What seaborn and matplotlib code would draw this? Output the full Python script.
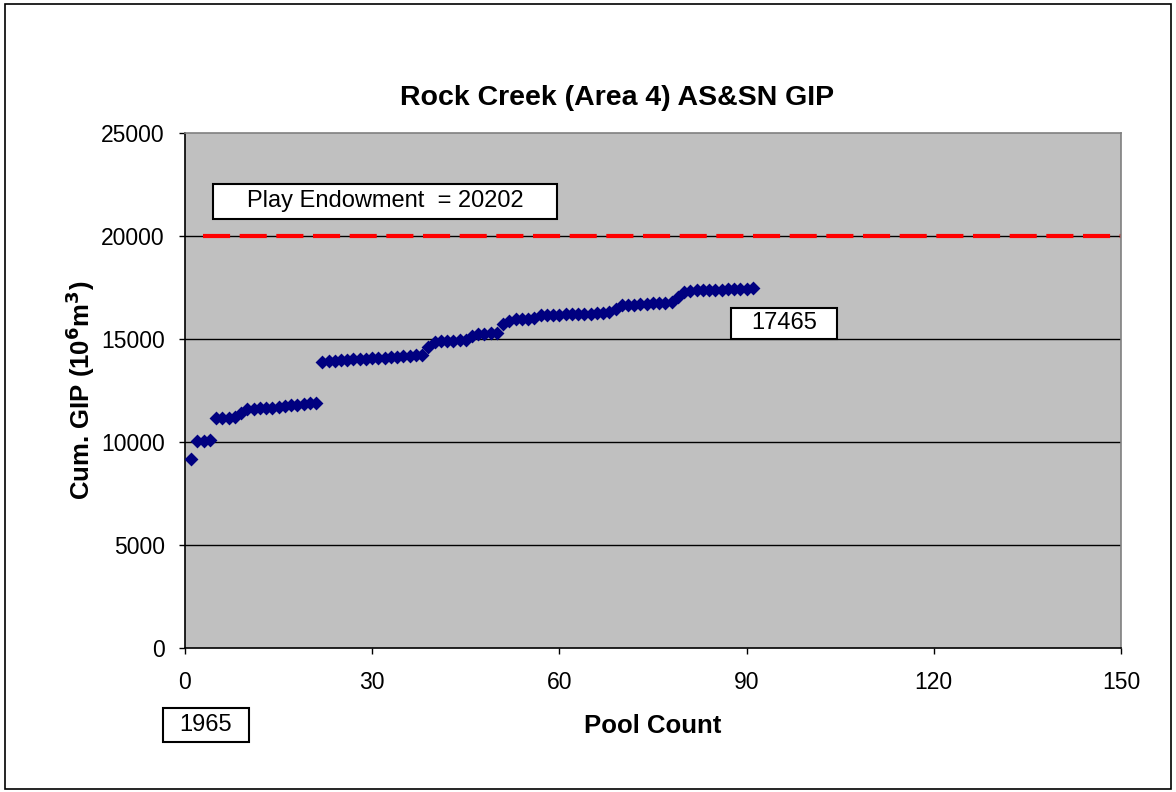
import numpy as np
import pandas as pd
import seaborn as sns
import matplotlib.pyplot as plt
from matplotlib.patches import Rectangle

sns.set_theme(style="white")
plt.rcParams['font.family'] = ['Liberation Sans', 'DejaVu Sans']
plt.rcParams['text.color'] = 'black'
plt.rcParams['axes.labelcolor'] = 'black'

# data
pool_count = list(range(1, 92))
cum_gip = [9180, 10060, 10070, 10080, 11150, 11160, 11170, 11190, 11390, 11600,
           11620, 11640, 11650, 11670, 11690, 11740, 11780, 11820, 11850, 11870,
           11890, 13900, 13930, 13950, 13970, 13990, 14010, 14030, 14040, 14060,
           14080, 14100, 14120, 14140, 14160, 14180, 14200, 14220, 14590, 14850,
           14880, 14900, 14910, 14930, 14960, 15150, 15240, 15260, 15270, 15290,
           15730, 15890, 15950, 15970, 15990, 16010, 16150, 16160, 16170, 16180,
           16190, 16200, 16210, 16220, 16230, 16240, 16250, 16290, 16450, 16630,
           16650, 16670, 16690, 16710, 16730, 16750, 16770, 16800, 17040, 17300,
           17340, 17360, 17370, 17380, 17390, 17400, 17420, 17430, 17440, 17450,
           17465]
endowment_line = 20000
endowment_label = "Play Endowment  = 20202"
final_label = "17465"
start_year = "1965"
x_ticks = [0, 30, 60, 90, 120, 150]
y_ticks = [0, 5000, 10000, 15000, 20000, 25000]

df = pd.DataFrame({'pool': pool_count, 'gip': cum_gip})

fig = plt.figure(figsize=(11.76, 7.92), dpi=100)
ax = fig.add_axes([0.1573, 0.1818, 0.7959, 0.6503])
ax.set_facecolor('#c0c0c0')

# gridlines
for yv in y_ticks[1:-1]:
    ax.axhline(yv, color='black', lw=1, zorder=1)

# endowment line
ax.plot([2.9, 150], [endowment_line, endowment_line], color='#ff0000', lw=3,
        dashes=(6.5, 2.3), zorder=2)

sns.scatterplot(data=df, x='pool', y='gip', marker='D', s=50, color='#000080',
                edgecolor='#000080', linewidth=0, ax=ax, zorder=3)

ax.set_xlim(0, 150)
ax.set_ylim(0, 25000)
ax.set_xticks(x_ticks)
ax.set_yticks(y_ticks)
ax.tick_params(axis='both', labelsize=16.5, colors='black', length=4.5, width=1,
               direction='out', left=True, bottom=True)
ax.tick_params(axis='x', pad=12)
ax.tick_params(axis='y', pad=10)

for s in ['left', 'bottom']:
    ax.spines[s].set_color('black')
    ax.spines[s].set_linewidth(1.2)
for s in ['top', 'right']:
    ax.spines[s].set_color('#808080')
    ax.spines[s].set_linewidth(1.2)

ax.set_title("Rock Creek (Area 4) AS&SN GIP", fontsize=20.5, fontweight='bold',
             pad=20, x=0.4615)
ax.set_xlabel("Pool Count", fontsize=18.5, fontweight='bold')
ax.set_ylabel(r"Cum. GIP (10$^\mathbf{6}$m$^\mathbf{3}$)", fontsize=18.5,
              fontweight='bold')
ax.xaxis.set_label_coords(0.5, -0.128)
ax.yaxis.set_label_coords(-0.094, 0.5)

# label boxes
ax.add_patch(Rectangle((4.5, 20825), 55.1, 1700, facecolor='white',
                       edgecolor='black', lw=1.5, zorder=4))
ax.text(32.05, 21700, endowment_label, fontsize=17, ha='center', va='center', zorder=5)

ax.add_patch(Rectangle((87.5, 15000), 17.0, 1505, facecolor='white',
                       edgecolor='black', lw=1.5, zorder=4))
ax.text(96.0, 15760, final_label, fontsize=17, ha='center', va='center', zorder=5)

ax.add_patch(Rectangle((-0.0235, -0.1825), 0.092, 0.066, transform=ax.transAxes,
                       facecolor='white', edgecolor='black', lw=1.5, clip_on=False))
ax.text(0.0224, -0.1495, start_year, fontsize=17, ha='center', va='center',
        transform=ax.transAxes, clip_on=False)

# outer border
fig.patches.append(Rectangle((0.004, 0.004), 0.992, 0.991, transform=fig.transFigure,
                             fill=False, edgecolor='black', lw=1.2))

plt.savefig("out.png", dpi=100)
